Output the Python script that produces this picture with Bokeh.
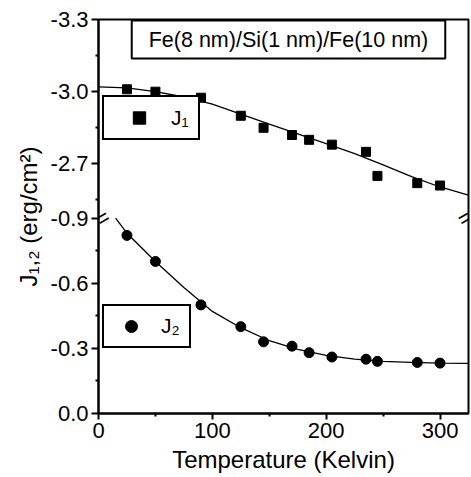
from bokeh.plotting import figure
from bokeh.models import (FixedTicker, Legend, LegendItem, Label, Range1d)
from bokeh.embed import file_html
from bokeh.resources import INLINE

# ---------------- data ----------------
temperature = [25, 50, 90, 125, 145, 170, 185, 205, 235, 245, 280, 300]
J1 = [-3.01, -3.00, -2.975, -2.90, -2.85, -2.82, -2.80, -2.78, -2.75, -2.65, -2.62, -2.61]
J2 = [-0.82, -0.70, -0.50, -0.40, -0.33, -0.31, -0.28, -0.26, -0.25, -0.24, -0.235, -0.232]

fit1_T = [0, 25, 50, 75, 100, 125, 150, 175, 200, 225, 250, 275, 300, 325]
fit1_J = [-3.02, -3.016, -3.0, -2.978, -2.948, -2.907, -2.865, -2.825, -2.784,
          -2.743, -2.696, -2.647, -2.604, -2.57]
fit2_T = [15, 25, 50, 75, 100, 125, 150, 175, 200, 225, 250, 275, 300, 325]
fit2_J = [-0.90, -0.83, -0.70, -0.58, -0.47, -0.395, -0.335, -0.295, -0.268,
          -0.25, -0.24, -0.235, -0.232, -0.231]

x_ticks = [0, 100, 200, 300]
x_minor = [50, 150, 250]
y_ticks_low = [0.0, -0.3, -0.6, -0.9]
y_minor_low = [-0.15, -0.45, -0.75]
y_ticks_high = [-2.7, -3.0, -3.3]
y_minor_high = [-2.55, -2.85, -3.15]

title_text = "Fe(8 nm)/Si(1 nm)/Fe(10 nm)"

# ---------------- broken axis mapping ----------------
LOW_MAX = 0.9      # |J| where the lower segment ends (break)
HIGH_MIN = 2.475   # |J| where the upper segment starts (break)
HIGH_MAX = 3.3
STRETCH = 1.108    # upper segment is drawn slightly taller per unit
X_MAX = 325

def v(j):
    a = abs(j)
    if a <= LOW_MAX + 1e-9:
        return a
    return LOW_MAX + (a - HIGH_MIN) * STRETCH

FONT = "Liberation Sans"

p = figure(frame_width=370, frame_height=394, output_backend="svg",
           toolbar_location=None, min_border_left=98, min_border_top=19,
           min_border_right=3, min_border_bottom=20,
           x_range=Range1d(0, X_MAX), y_range=Range1d(0, v(HIGH_MAX)))
p.grid.visible = False
p.outline_line_color = "black"
p.outline_line_width = 2
p.outline_line_alpha = 1
p.background_fill_color = "white"
p.border_fill_color = "white"

# fitted curves
p.line(fit1_T, [v(j) for j in fit1_J], line_color="black", line_width=1.3)
p.line(fit2_T, [v(j) for j in fit2_J], line_color="black", line_width=1.3)

r1 = p.scatter(temperature, [v(j) for j in J1], marker="square", size=9,
               fill_color="black", line_color="black")
r2 = p.scatter(temperature, [v(j) for j in J2], marker="circle", size=10,
               fill_color="black", line_color="black")

# axes
xa = p.xaxis[0]
xa.ticker = FixedTicker(ticks=x_ticks, minor_ticks=x_minor)
xa.axis_label = "Temperature (Kelvin)"
ya = p.yaxis[0]
tick_vals = [v(t) for t in y_ticks_low + y_ticks_high]
minor_vals = [v(t) for t in y_minor_low + y_minor_high]
ya.ticker = FixedTicker(ticks=tick_vals, minor_ticks=minor_vals)
ya.major_label_overrides = {v(t): f"{t:.1f}" for t in y_ticks_low + y_ticks_high}
ya.axis_label = "J\u2081,\u2082 (erg/cm\u00b2)"

for ax in (xa, ya):
    ax.axis_line_width = 2
    ax.axis_line_color = "black"
    ax.major_tick_line_width = 2
    ax.minor_tick_line_width = 2
    ax.major_tick_line_color = "black"
    ax.minor_tick_line_color = "black"
    ax.major_tick_in = 0
    ax.minor_tick_in = 0
    ax.major_label_text_font = FONT
    ax.major_label_text_font_size = "22px"
    ax.major_label_text_color = "black"
    ax.axis_label_text_font = FONT
    ax.axis_label_text_font_size = "24px"
    ax.axis_label_text_font_style = "normal"
    ax.axis_label_text_color = "black"
xa.major_tick_out = 6
xa.minor_tick_out = 3
xa.major_label_standoff = 3
xa.axis_label_standoff = 5
ya.major_tick_out = 7
ya.minor_tick_out = 3
ya.major_label_standoff = 3
ya.axis_label_standoff = 6

# legends
common = dict(border_line_color="black", border_line_width=2, border_line_alpha=1,
              margin=0, spacing=0, padding=5, label_text_font=FONT,
              label_text_font_size="21px", label_text_color="black",
              background_fill_color="white", background_fill_alpha=1)
leg1 = Legend(items=[LegendItem(label="J\u2081", renderers=[r1])], location=(4, 273),
              glyph_width=60, glyph_height=31, label_standoff=2, label_width=22,
              label_height=31, **common)
leg2 = Legend(items=[LegendItem(label="J\u2082", renderers=[r2])], location=(4, 65),
              glyph_width=44, glyph_height=30, label_standoff=8, label_width=23,
              label_height=30, **common)
p.add_layout(leg1)
p.add_layout(leg2)

# title box
p.add_layout(Label(x=190, y=374, x_units="screen", y_units="screen", text=title_text,
                   text_align="center", text_baseline="middle", text_font=FONT,
                   text_font_size="21.5px", text_color="black",
                   border_line_color="black", border_line_width=2, border_line_alpha=1,
                   background_fill_color="white", padding=(17, 7)))

# axis break marks (kept just inside the frame so they are not clipped)
for xb, off in ((0, 4), (X_MAX, -4)):
    p.add_layout(Label(x=xb, y=LOW_MAX, x_offset=off, text="=", angle=30, angle_units="deg",
                       text_align="center", text_baseline="middle", text_font=FONT,
                       text_font_size="22px", text_color="black"))

open("out.html", "w").write(file_html(p, INLINE))
